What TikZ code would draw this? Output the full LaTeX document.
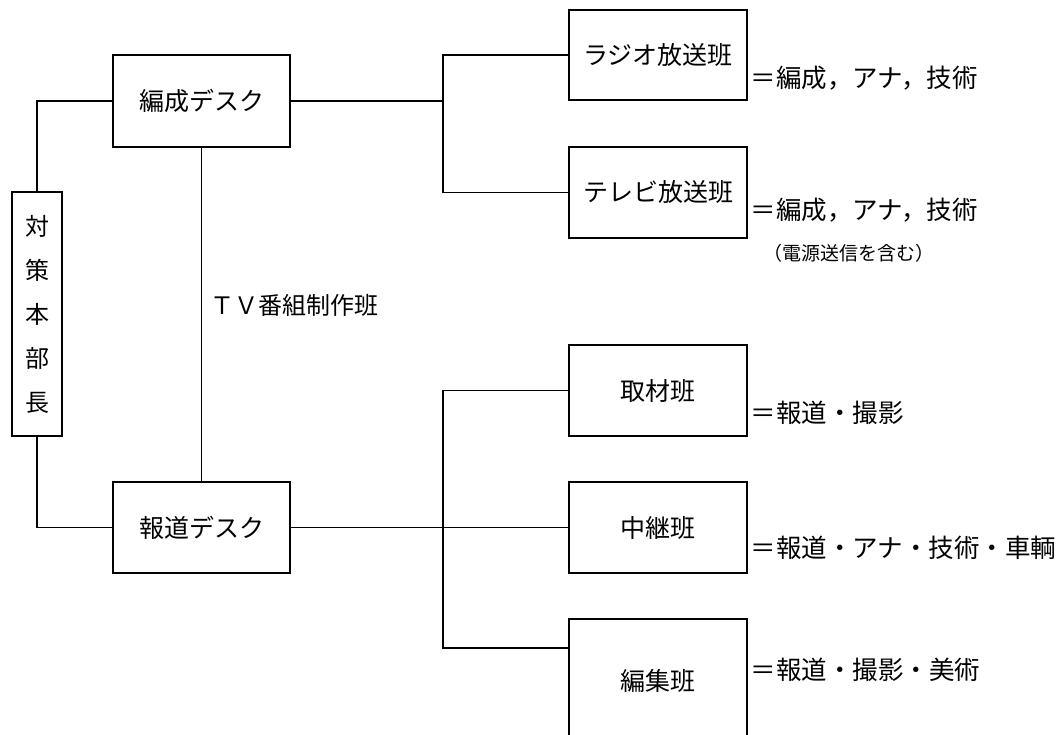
\documentclass[tikz,border=0pt]{standalone}
\usepackage{fontspec}
\newfontfamily\jp{Noto Sans CJK JP}
\begin{document}
\begin{tikzpicture}[x=1pt,y=-1pt,
  line width=1.7pt,
  box/.style={draw, line width=1.7pt, inner sep=0pt, minimum width=178pt, minimum height=91pt,
    font=\jp\fontsize{25}{28}\selectfont},
  lab/.style={anchor=west, inner sep=0pt, font=\jp\fontsize{25.5}{28}\selectfont},
  small/.style={anchor=west, inner sep=0pt, font=\jp\fontsize{19}{22}\selectfont}]
\useasboundingbox (0,0) rectangle (1059,735);
\clip (0,0) rectangle (1059,735);
% boxes
\node[box, minimum width=50pt, minimum height=244pt, align=center,
  font=\jp\fontsize{24}{44}\selectfont] (hq) at (37,314) {対\\策\\本\\部\\長};
\node[box, minimum width=177pt, minimum height=92pt] (hensei) at (201.5,101) {編成デスク};
\node[box, minimum width=177pt] (houdou) at (201.5,527.5) {報道デスク};
\node[box, minimum height=90pt] (radio) at (658,55) {ラジオ放送班};
\node[box] (tv) at (658,192.5) {テレビ放送班};
\node[box] (shuzai) at (658,390.5) {取材班};
\node[box] (chukei) at (658,527.5) {中継班};
\node[box, minimum height=123pt] (henshu) at (658,680.5) {編集班};
\coordinate (bt) at (443,0);
\coordinate (hj) at (569,648);
% connectors
\draw (hensei.west) -| (hq.north);
\draw (houdou.west) -| (hq.south);
\draw (hensei.south) -- (houdou.north);
\draw (hensei.east) -- (hensei.east -| bt);
\draw (radio.west) -- (radio.west -| bt) -- (tv.west -| bt) -- (tv.west);
\draw (houdou.east) -- (chukei.west);
\draw (shuzai.west) -- (shuzai.west -| bt) -- (hj -| bt) -- (hj);
% labels
\node[lab, font=\jp\fontsize{24}{28}\selectfont] (tvl) at (210,305) {ＴＶ番組制作班};
\node[lab] (l1) at (750,78) {＝編成，アナ，技術};
\node[lab] (l2) at (750,210) {＝編成，アナ，技術};
\node[small] (l3) at (763,253) {（電源送信を含む）};
\node[lab] (l4) at (750,413) {＝報道・撮影};
\node[lab] (l5) at (750,548) {＝報道・アナ・技術・車輌};
\node[lab] (l6) at (750,670) {＝報道・撮影・美術};
\end{tikzpicture}
\end{document}
